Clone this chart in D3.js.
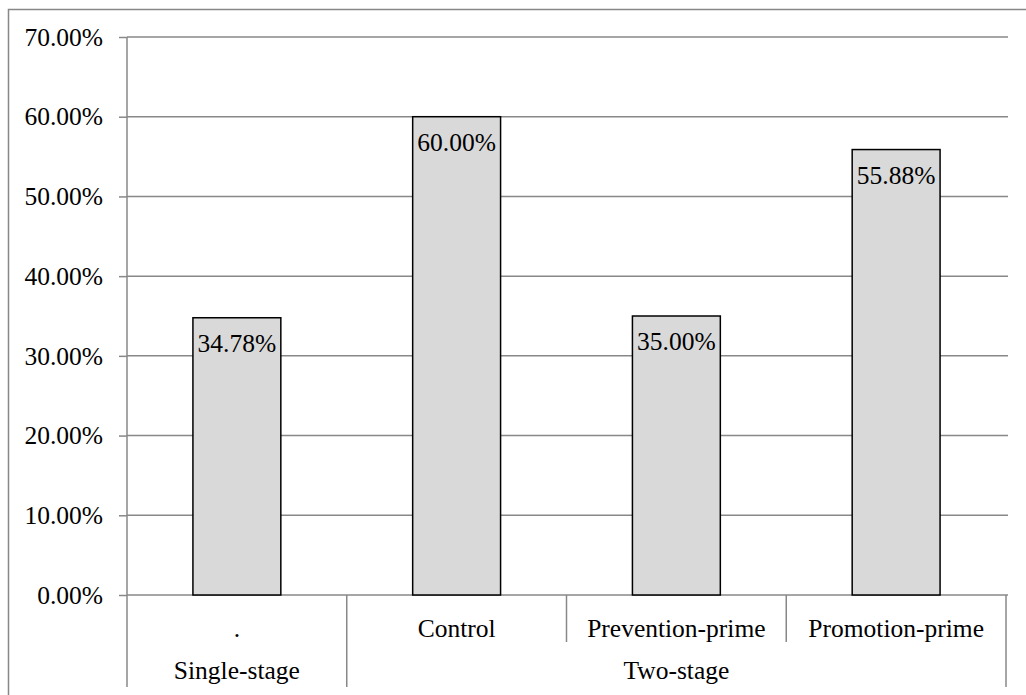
<!DOCTYPE html>
<html>
<head>
<meta charset="utf-8">
<script src="https://cdn.jsdelivr.net/npm/d3@7"></script>
<style>
  html, body { margin: 0; padding: 0; background: #fff; }
  svg { display: block; }
</style>
</head>
<body>
<svg id="chart" width="1026" height="695"></svg>
<script>
const categories = [".", "Control", "Prevention-prime", "Promotion-prime"];
const groups = ["Single-stage", "Two-stage", "Two-stage", "Two-stage"];
const values = [34.78, 60.00, 35.00, 55.88];
const yTicks = [0, 10, 20, 30, 40, 50, 60, 70];

(function () {
const svg = d3.select("#chart");
const plotLeft = 127, plotRight = 1006, plotTop = 37, plotBottom = 595;
const gridColor = "#888888";
const FONT = '"Liberation Serif", "Times New Roman", serif';
const fontSize = "25.5px";

function styleText(sel) {
  return sel.style("font-family", FONT).style("font-size", fontSize).style("fill", "#000");
}

// outer chart border (clipped at right/bottom)
svg.append("rect")
  .attr("x", 8.5).attr("y", 9.5)
  .attr("width", 1040).attr("height", 720)
  .attr("fill", "none").attr("stroke", gridColor).attr("stroke-width", 1.5);

const keys = categories.map((c, i) => i);
const x = d3.scaleBand().domain(keys).range([plotLeft, plotRight]).paddingInner(0).paddingOuter(0);
const y = d3.scaleLinear().domain([0, 70]).range([plotBottom, plotTop]);

// gridlines
svg.append("g").selectAll("line").data(yTicks).join("line")
  .attr("x1", plotLeft).attr("x2", 1008)
  .attr("y1", d => y(d)).attr("y2", d => y(d))
  .attr("stroke", gridColor).attr("stroke-width", 1.5);

// y axis
const yAxis = d3.axisLeft(y).tickValues(yTicks)
  .tickFormat(d => d.toFixed(2) + "%")
  .tickSize(8).tickPadding(16);
const ga = svg.append("g").attr("transform", `translate(${plotLeft},0)`).call(yAxis);
ga.attr("font-family", null).attr("font-size", null);
ga.select(".domain").remove();
ga.selectAll(".tick line").attr("stroke", gridColor).attr("stroke-width", 1.5);
styleText(ga.selectAll(".tick text"));

// vertical axis line extended into category area
svg.append("line").attr("x1", plotLeft).attr("x2", plotLeft).attr("y1", plotTop).attr("y2", 687)
  .attr("stroke", gridColor).attr("stroke-width", 1.5);

// bars
const bw = x.bandwidth() * 0.4;
svg.append("g").selectAll("rect").data(values).join("rect")
  .attr("x", (d, i) => x(i) + x.bandwidth() / 2 - bw / 2)
  .attr("y", d => y(d))
  .attr("width", bw)
  .attr("height", d => y(0) - y(d))
  .attr("fill", "#d9d9d9").attr("stroke", "#000").attr("stroke-width", 1.5);

// data labels
styleText(svg.append("g").selectAll("text").data(values).join("text")
  .attr("x", (d, i) => x(i) + x.bandwidth() / 2)
  .attr("y", d => y(d) + 34)
  .attr("text-anchor", "middle")
  .text(d => d.toFixed(2) + "%"));

// category separators (level 1 inner and outer)
const boundaries = keys.map(k => x(k)).concat([x(keys[keys.length - 1]) + x.bandwidth()]);
boundaries.forEach((bx, i) => {
  if (i === 0) return;
  const outer = i === boundaries.length - 1 || groups[i] !== groups[i - 1];
  svg.append("line").attr("x1", bx).attr("x2", bx)
    .attr("y1", plotBottom).attr("y2", outer ? 687 : 642)
    .attr("stroke", gridColor).attr("stroke-width", 1.5);
});

// level-1 labels
styleText(svg.append("g").selectAll("text").data(categories).join("text")
  .attr("x", (d, i) => x(i) + x.bandwidth() / 2)
  .attr("y", 637)
  .attr("text-anchor", "middle")
  .text(d => d));

// level-2 group labels
const groupNames = Array.from(new Set(groups));
const groupSpans = groupNames.map(g => {
  const idx = keys.filter(i => groups[i] === g);
  return { name: g, x0: x(idx[0]), x1: x(idx[idx.length - 1]) + x.bandwidth() };
});
styleText(svg.append("g").selectAll("text").data(groupSpans).join("text")
  .attr("x", d => (d.x0 + d.x1) / 2)
  .attr("y", 679)
  .attr("text-anchor", "middle")
  .text(d => d.name));
})();
</script>
</body>
</html>
